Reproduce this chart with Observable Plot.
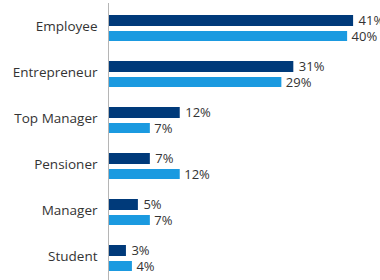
<!DOCTYPE html>
<html>
<head>
<meta charset="utf-8">
<script src="https://cdn.jsdelivr.net/npm/d3@7"></script>
<script src="https://cdn.jsdelivr.net/npm/@observablehq/plot@0.6"></script>
<style>
  html, body { margin: 0; padding: 0; background: #fff; overflow: hidden; }
</style>
</head>
<body>
<div id="chart"></div>
<script>
const categories = ["Employee", "Entrepreneur", "Top Manager", "Pensioner", "Manager", "Student"];
const seriesA = [41, 31, 12, 7, 5, 3];
const seriesB = [40, 29, 7, 12, 7, 4];

const dataA = categories.map((c, i) => ({category: c, value: seriesA[i]}));
const dataB = categories.map((c, i) => ({category: c, value: seriesB[i]}));

const darkColor = "#003a7a";
const lightColor = "#1b9ae0";
const textColor = "#333333";

const chart = Plot.plot({
  width: 380,
  height: 280,
  marginLeft: 108,
  marginRight: 0,
  marginTop: 3,
  marginBottom: 0,
  style: {fontFamily: "'Open Sans', sans-serif", fontSize: "13px", background: "#fff"},
  x: {domain: [0, 45.5], axis: null},
  y: {domain: categories, range: [2, 283.4], padding: 0, label: null},
  marks: [
    Plot.barX(dataA, {y: "category", x: "value", fill: darkColor, insetTop: 10, insetBottom: 25}),
    Plot.barX(dataB, {y: "category", x: "value", fill: lightColor, insetTop: 26, insetBottom: 10}),
    Plot.text(dataA, {y: "category", x: "value", text: d => d.value + "%", dx: 5, dy: -7.5, textAnchor: "start", fill: textColor, fontSize: 13}),
    Plot.text(dataB, {y: "category", x: "value", text: d => d.value + "%", dx: 4, dy: 8, textAnchor: "start", fill: textColor, fontSize: 13}),
    Plot.ruleX([0], {stroke: "#b5b5b5", strokeWidth: 1}),
    Plot.axisY({tickSize: 0, tickPadding: 11, dy: -1.5, fontSize: 13.5, fill: textColor, label: null})
  ]
});
document.getElementById("chart").appendChild(chart);
</script>
</body>
</html>
